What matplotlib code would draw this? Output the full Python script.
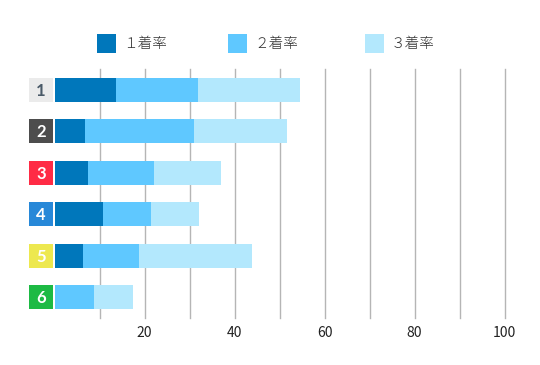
import matplotlib
matplotlib.use("Agg")
import matplotlib.pyplot as plt
from matplotlib.patches import Rectangle
import matplotlib.transforms as mtransforms

plt.rcParams['font.family'] = ['Noto Sans CJK JP', 'DejaVu Sans']

lanes = ["1", "2", "3", "4", "5", "6"]
first = [13.7, 6.8, 7.5, 10.8, 6.4, 0.0]
second = [18.2, 24.2, 14.7, 10.7, 12.4, 8.8]
third = [22.7, 20.7, 14.8, 10.7, 25.1, 8.7]
series_names = ["１着率", "２着率", "３着率"]
xticks = [20, 40, 60, 80, 100]

series_colors = ["#0077BB", "#5FC8FF", "#B3E8FD"]
lane_bg = ["#EBEBEB", "#4D4D4D", "#FF2B45", "#2788D8", "#EDE84F", "#1DBA44"]
lane_fg = ["#4A5A68", "#FFFFFF", "#FFFFFF", "#FFFFFF", "#FFFFFF", "#FFFFFF"]

W, H = 540, 365
fig = plt.figure(figsize=(W / 100, H / 100), dpi=100)
x0, x1 = 54.5, 504.5
y0, y1 = 69, 318
ax = fig.add_axes([x0 / W, 1 - y1 / H, (x1 - x0) / W, (y1 - y0) / H])

ypos = list(range(len(lanes)))
bh = 0.58
left = [0] * len(lanes)
for vals, col in zip([first, second, third], series_colors):
    ax.barh(ypos, vals, left=left, height=bh, color=col, zorder=3)
    left = [l + v for l, v in zip(left, vals)]

ax.set_xlim(0, 100)
ax.set_ylim(len(lanes) - 0.5, -0.5)
ax.set_xticks(xticks)
ax.set_xticks([10, 30, 50, 70, 90], minor=True)
ax.set_yticks([])
ax.tick_params(axis='x', which='both', length=0, pad=6, labelsize=10, labelcolor="#222222")
ax.grid(axis='x', which='both', color="#B5B5B5", linewidth=1.0, zorder=0)
for gl in ax.get_xgridlines(minor=False) + ax.get_xgridlines(minor=True) if False else []:
    pass
for s in ax.spines.values():
    s.set_visible(False)

fig.canvas.draw()
for t in ax.xaxis.get_major_ticks() + ax.xaxis.get_minor_ticks():
    t.gridline.set_clip_on(False)

# lane label boxes
trans = mtransforms.blended_transform_factory(fig.transFigure, ax.transData)
bx0 = 29 / W
bw = 24 / W
for i, lab in enumerate(lanes):
    ax.add_patch(Rectangle((bx0, i - bh / 2), bw, bh, transform=trans,
                           facecolor=lane_bg[i], edgecolor='none', clip_on=False))
    ax.text(bx0 + bw / 2, i + 0.02, lab, transform=trans, ha='center', va='center',
            fontsize=12, fontweight='bold', color=lane_fg[i], family=['Lato', 'DejaVu Sans'])

# legend
leg_sq_x = [97, 228, 365]
for name, col, sx in zip(series_names, series_colors, leg_sq_x):
    fig.patches.append(Rectangle((sx / W, 1 - 53 / H), 19 / W, 19 / H,
                                 transform=fig.transFigure, facecolor=col,
                                 edgecolor='none'))
    fig.text((sx + 26) / W, 1 - 44 / H, name, ha='left', va='center',
             fontsize=10.5, color="#333333", fontweight='light')

fig.savefig("out.png", dpi=100)
